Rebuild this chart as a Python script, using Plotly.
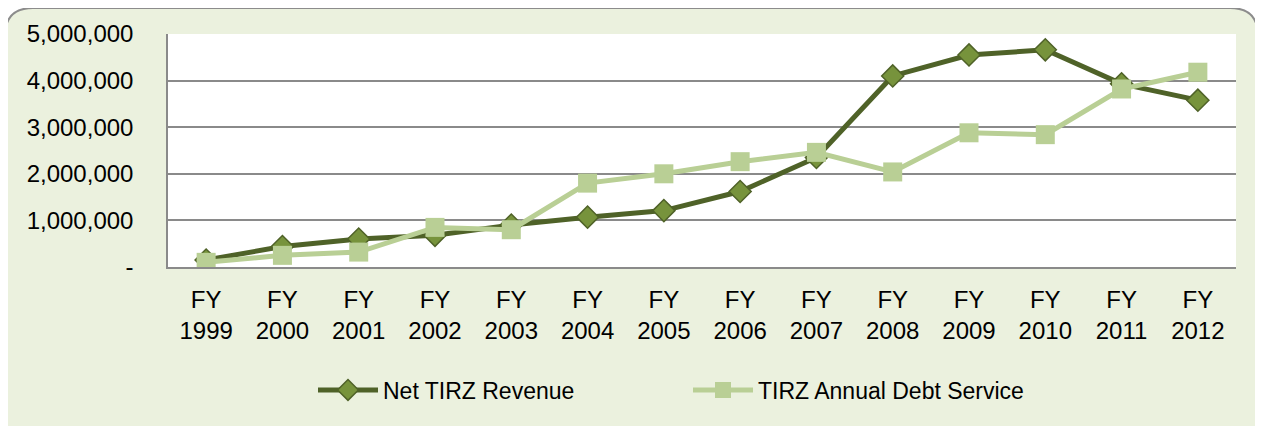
import plotly.graph_objects as go

# -----------------------------
# Data
# -----------------------------
years = ["FY<br>1999", "FY<br>2000", "FY<br>2001", "FY<br>2002", "FY<br>2003",
         "FY<br>2004", "FY<br>2005", "FY<br>2006", "FY<br>2007", "FY<br>2008",
         "FY<br>2009", "FY<br>2010", "FY<br>2011", "FY<br>2012"]

net_revenue = [150000, 440000, 600000, 680000, 900000, 1070000, 1210000,
               1620000, 2350000, 4100000, 4550000, 4660000, 3930000, 3580000]

debt_service = [100000, 250000, 320000, 850000, 800000, 1800000, 2000000,
                2260000, 2460000, 2040000, 2880000, 2840000, 3820000, 4180000]

y_ticks = [0, 1000000, 2000000, 3000000, 4000000, 5000000]
y_ticktext = ["-", "1,000,000", "2,000,000", "3,000,000", "4,000,000", "5,000,000"]

# -----------------------------
# Theme
# -----------------------------
DARK = "#4F6228"
MID = "#77933C"
LIGHT = "#B9CF95"
FRAME_BG = "#EBF1DE"
GRID = "#8A8A8A"
FONT = "Liberation Sans Narrow, Arial Narrow, Liberation Sans, sans-serif"

# page body adds an 8px offset, so figure coords = screen coords - 8
OFF = 8
W, H = 1263, 426
PL, PR, PT, PB = 168, 1236, 34, 267          # plot box in screen pixels
L, R, T, B = PL - OFF, W - (PR - OFF), PT - OFF, H - (PB - OFF)

fig = go.Figure()

fig.add_trace(
    go.Scatter(
        x=years,
        y=net_revenue,
        name="Net TIRZ Revenue",
        mode="lines+markers",
        line=dict(color=DARK, width=5),
        marker=dict(symbol="diamond", size=17, color=MID,
                    line=dict(color=DARK, width=1.5)),
    )
)

fig.add_trace(
    go.Scatter(
        x=years,
        y=debt_service,
        name="TIRZ Annual Debt Service",
        mode="lines+markers",
        line=dict(color=LIGHT, width=5),
        marker=dict(symbol="square", size=19, color=LIGHT),
    )
)

# rounded frame behind everything (screen pixel -> paper coords)
pw, ph = PR - PL, PB - PT


def px(x):
    return (x - PL) / pw


def py(y):
    return (PB - y) / ph


x0, x1, y0, y1, rad = 5, 1258, 8, 445, 28
path = (
    f"M {px(x0 + rad)},{py(y0)} L {px(x1 - rad)},{py(y0)} "
    f"Q {px(x1)},{py(y0)} {px(x1)},{py(y0 + rad)} "
    f"L {px(x1)},{py(y1 - rad)} Q {px(x1)},{py(y1)} {px(x1 - rad)},{py(y1)} "
    f"L {px(x0 + rad)},{py(y1)} Q {px(x0)},{py(y1)} {px(x0)},{py(y1 - rad)} "
    f"L {px(x0)},{py(y0 + rad)} Q {px(x0)},{py(y0)} {px(x0 + rad)},{py(y0)} Z"
)

fig.add_shape(
    type="path",
    path=path,
    xref="paper",
    yref="paper",
    fillcolor=FRAME_BG,
    line=dict(color="#8C8C8C", width=2),
    layer="below",
)

# white plot area on top of the frame
fig.add_shape(
    type="rect",
    xref="paper",
    yref="paper",
    x0=0, x1=1, y0=0, y1=1,
    fillcolor="white",
    line=dict(width=0),
    layer="below",
)

fig.update_layout(
    width=W,
    height=H,
    margin=dict(l=L, r=R, t=T, b=B),
    paper_bgcolor="white",
    plot_bgcolor="rgba(0,0,0,0)",
    font=dict(family=FONT, size=24, color="black"),
    showlegend=True,
    legend=dict(
        orientation="h",
        x=px(313),
        xanchor="left",
        y=py(390),
        yanchor="middle",
        bgcolor="rgba(0,0,0,0)",
        font=dict(size=23),
        itemwidth=60,
        entrywidth=300,
        entrywidthmode="pixels",
    ),
    xaxis=dict(
        type="category",
        range=[-0.5, 13.5],
        showgrid=False,
        showline=True,
        linecolor=GRID,
        linewidth=2,
        ticks="outside",
        ticklen=10,
        tickcolor="rgba(0,0,0,0)",
        zeroline=False,
    ),
    yaxis=dict(
        range=[0, 5000000],
        tickvals=y_ticks,
        ticktext=y_ticktext,
        showgrid=True,
        gridcolor=GRID,
        gridwidth=1.5,
        showline=True,
        linecolor=GRID,
        linewidth=1.5,
        ticks="outside",
        ticklen=28,
        tickcolor="rgba(0,0,0,0)",
        zeroline=False,
    ),
)

fig.write_html("out.html")
